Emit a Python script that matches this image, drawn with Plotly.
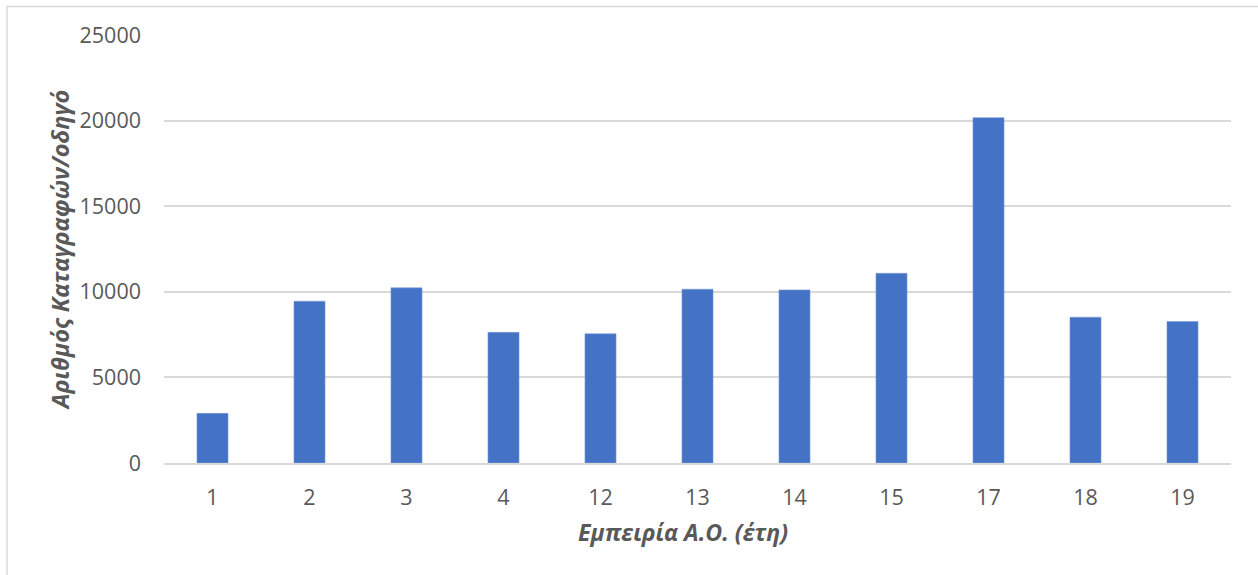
import plotly.graph_objects as go

categories = ["1", "2", "3", "4", "12", "13", "14", "15", "17", "18", "19"]
values = [2900, 9450, 10230, 7630, 7545, 10150, 10110, 11080, 20170, 8515, 8265]
y_ticks = [0, 5000, 10000, 15000, 20000, 25000]

W, H = 1258, 575
L, R, T, B = 164, 27, 34.5, 112
pw, ph = W - L - R, H - T - B

font_family = "Open Sans"
gray = "#595959"

fig = go.Figure()
fig.add_trace(go.Bar(
    x=categories, y=values,
    marker=dict(color="#4472C4", line=dict(color="#7a9bd6", width=0.6)),
))

fig.update_layout(
    width=W, height=H,
    margin=dict(l=L, r=R, t=T, b=B, pad=0),
    paper_bgcolor="white", plot_bgcolor="white",
    bargap=0.68,
    showlegend=False,
    font=dict(family=font_family, color=gray, size=21.5),
)
fig.update_xaxes(
    type="category",
    showgrid=False, zeroline=False,
    showline=True, linecolor="#d9d9d9", linewidth=1.5,
    ticks="", tickfont=dict(size=21.5, color=gray, family=font_family),
    ticklabelstandoff=14,
)
fig.update_yaxes(
    range=[0, 25000], tickvals=y_ticks, ticktext=[str(v) for v in y_ticks],
    showgrid=True, gridcolor="#d9d9d9", gridwidth=1.5,
    zeroline=False, showline=False, ticks="",
    tickfont=dict(size=21.5, color=gray, family=font_family),
    ticklabelstandoff=22,
    title=dict(text="<b><i>Αριθμός Καταγραφών/οδηγό</i></b>",
               font=dict(size=23.5, color=gray, family=font_family), standoff=3),
)

fig.add_annotation(
    text="<b><i>Εμπειρία Α.Ο. (έτη)</i></b>",
    xref="paper", yref="paper",
    x=(683 - L) / pw, y=(H - B - 532) / ph,
    xanchor="center", yanchor="middle", showarrow=False,
    font=dict(size=23.2, color=gray, family=font_family),
)

# outer chart frame (light gray)
fig.add_shape(
    type="rect", xref="paper", yref="paper",
    x0=(7 - L) / pw, x1=(W + 20 - L) / pw,
    y0=(H - B - (H + 20)) / ph, y1=(H - B - 6) / ph,
    line=dict(color="#d9d9d9", width=1.5), fillcolor="rgba(0,0,0,0)",
    layer="below",
)

fig.write_html("out.html")
